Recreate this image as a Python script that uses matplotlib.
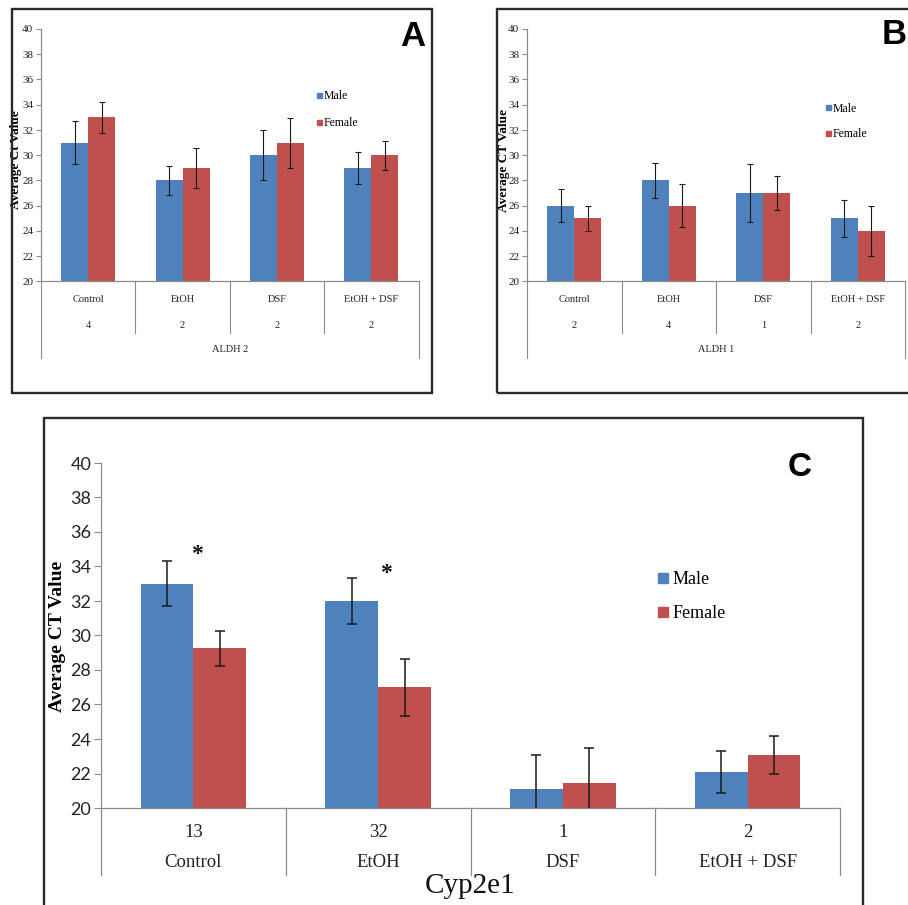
import matplotlib
matplotlib.use('Agg')
import matplotlib.pyplot as plt
import numpy as np
from matplotlib.transforms import blended_transform_factory
from matplotlib.patches import Rectangle
from matplotlib.lines import Line2D

W, H = 908, 905

# ---------------- data ----------------
categories = ['Control', 'EtOH', 'DSF', 'EtOH + DSF']
series = ['Male', 'Female']
yticks = [20, 22, 24, 26, 28, 30, 32, 34, 36, 38, 40]

aldh2_counts = ['4', '2', '2', '2']
aldh2_male = [31.0, 28.0, 30.0, 29.0]
aldh2_female = [33.0, 29.0, 31.0, 30.0]
aldh2_male_err = [1.73, 1.17, 2.0, 1.28]
aldh2_female_err = [1.23, 1.6, 1.98, 1.14]

aldh1_counts = ['2', '4', '1', '2']
aldh1_male = [26.0, 28.0, 27.0, 25.0]
aldh1_female = [25.0, 26.0, 27.0, 24.0]
aldh1_male_err = [1.3, 1.35, 2.3, 1.45]
aldh1_female_err = [0.98, 1.7, 1.33, 2.0]

cyp_counts = ['13', '32', '1', '2']
cyp_male = [33.0, 32.0, 21.1, 22.1]
cyp_female = [29.25, 27.0, 21.45, 23.1]
cyp_male_err = [1.3, 1.35, 2.0, 1.22]
cyp_female_err = [1.0, 1.65, 2.0, 1.1]
cyp_star_x = [0.02, 1.04]
cyp_star_y = [34.7, 33.6]

BLUE = '#4F81BD'
RED = '#C0504D'
SPINE = '#8c8c8c'
SERIF = ['Liberation Serif', 'DejaVu Serif']
SANS = ['Liberation Sans', 'DejaVu Sans']

fig = plt.figure(figsize=(W / 100, H / 100), dpi=100)


def px_axes(left, top, right, bottom):
    return fig.add_axes([left / W, 1 - bottom / H, (right - left) / W, (bottom - top) / H])


def draw_box(l, t, r, b):
    fig.add_artist(Rectangle((l / W, 1 - b / H), (r - l) / W, (b - t) / H,
                             transform=fig.transFigure, fill=False, lw=1.7,
                             ec='#2a2a2a', zorder=10))


def bar_panel(ax, male, female, merr, ferr, width, capsize, elw,
              tick_font, tick_size, tick_len):
    x = np.arange(len(categories))
    ax.bar(x - width / 2, male, width, color=BLUE, zorder=2)
    ax.bar(x + width / 2, female, width, color=RED, zorder=2)
    ax.errorbar(x - width / 2, male, yerr=merr, fmt='none', ecolor='#1a1a1a',
                elinewidth=elw, capsize=capsize, capthick=elw, zorder=3)
    ax.errorbar(x + width / 2, female, yerr=ferr, fmt='none', ecolor='#1a1a1a',
                elinewidth=elw, capsize=capsize, capthick=elw, zorder=3)
    ax.set_xlim(-0.5, len(categories) - 0.5)
    ax.set_ylim(20, 40)
    ax.set_yticks(yticks)
    for s in ['top', 'right']:
        ax.spines[s].set_visible(False)
    for s in ['left', 'bottom']:
        ax.spines[s].set_color(SPINE)
        ax.spines[s].set_linewidth(0.9)
    ax.tick_params(axis='x', length=0, labelbottom=False)
    ax.tick_params(axis='y', direction='out', length=tick_len, color=SPINE,
                   width=0.8, pad=2)
    for lab in ax.get_yticklabels():
        lab.set_family(tick_font)
        lab.set_fontsize(tick_size)
        lab.set_color('#222222')
    ax.patch.set_alpha(0)


def ya(y_px, top, bottom):
    return (bottom - y_px) / (bottom - top)


def table_labels(ax, top, bot, counts, group):
    tr = blended_transform_factory(ax.transData, ax.transAxes)
    for i, (c, n) in enumerate(zip(categories, counts)):
        ax.text(i, ya(299, top, bot), c, transform=tr, ha='center', va='center',
                family=SERIF, fontsize=7.5, color='#222222')
        ax.text(i, ya(325, top, bot), n, transform=tr, ha='center', va='center',
                family=SERIF, fontsize=7.5, color='#222222')
    ax.text(1.5, ya(350, top, bot), group, transform=tr, ha='center', va='center',
            family=SERIF, fontsize=7.5, color='#222222')
    for xv in np.arange(-0.5, len(categories), 1.0):
        end = 358 if xv in (-0.5, len(categories) - 0.5) else 333
        ax.plot([xv, xv], [0, ya(end, top, bot)], transform=tr, color=SPINE,
                lw=0.8, clip_on=False)


# ---------------- Panel A ----------------
draw_box(11.5, 9, 432, 393)
A_top, A_bot = 29, 281.5
axA = px_axes(41, A_top, 418.5, A_bot)
bar_panel(axA, aldh2_male, aldh2_female, aldh2_male_err, aldh2_female_err,
          0.286, 1.9, 0.8, SERIF, 8, 3.5)
table_labels(axA, A_top, A_bot, aldh2_counts, 'ALDH 2')
fig.text(16 / W, 1 - 160 / H, 'Average Ct Value', rotation=90, ha='center', va='center',
         family=SERIF, fontweight='bold', fontsize=9.5)
fig.text(413 / W, 1 - 37 / H, 'A', ha='center', va='center', family=SANS,
         fontweight='bold', fontsize=25)
handles_small = [Line2D([], [], marker='s', ls='none', markersize=3.6, color=BLUE),
                 Line2D([], [], marker='s', ls='none', markersize=3.6, color=RED)]
fig.legend(handles_small, series, loc='upper left', bbox_to_anchor=(316 / W, 1 - 90 / H),
           frameon=False, prop={'family': SERIF, 'size': 8.5}, handlelength=0.5,
           handletextpad=0.15, labelspacing=1.25, borderpad=0, borderaxespad=0)

# ---------------- Panel B ----------------
draw_box(497, 9, 915, 393)
B_top, B_bot = 29, 281.5
axB = px_axes(527, B_top, 905, B_bot)
bar_panel(axB, aldh1_male, aldh1_female, aldh1_male_err, aldh1_female_err,
          0.286, 1.9, 0.8, SERIF, 8, 3.5)
table_labels(axB, B_top, B_bot, aldh1_counts, 'ALDH 1')
fig.text(504 / W, 1 - 160 / H, 'Average CT Value', rotation=90, ha='center', va='center',
         family=SERIF, fontweight='bold', fontsize=9.5)
fig.text(894 / W, 1 - 35 / H, 'B', ha='center', va='center', family=SANS,
         fontweight='bold', fontsize=25)
fig.legend(handles_small, series, loc='upper left', bbox_to_anchor=(825 / W, 1 - 102.5 / H),
           frameon=False, prop={'family': SERIF, 'size': 8.5}, handlelength=0.5,
           handletextpad=0.15, labelspacing=1.15, borderpad=0, borderaxespad=0)

# ---------------- Panel C ----------------
draw_box(43.5, 418, 863, 915)
C_top, C_bot = 463, 808
axC = px_axes(101, C_top, 840, C_bot)
bar_panel(axC, cyp_male, cyp_female, cyp_male_err, cyp_female_err,
          0.286, 3.6, 1.1, ['Lato', 'DejaVu Sans'], 13, 5)
trC = blended_transform_factory(axC.transData, axC.transAxes)
for i, (c, n) in enumerate(zip(categories, cyp_counts)):
    axC.text(i, ya(832, C_top, C_bot), n, transform=trC, ha='center', va='center',
             family=SERIF, fontsize=13.5, color='#222222')
    axC.text(i, ya(862, C_top, C_bot), c, transform=trC, ha='center', va='center',
             family=SERIF, fontsize=13.5, color='#222222')
for xv in np.arange(-0.5, len(categories), 1.0):
    axC.plot([xv, xv], [0, ya(875, C_top, C_bot)], transform=trC, color=SPINE,
             lw=0.9, clip_on=False)
axC.text(1.5, ya(886, C_top, C_bot), 'Cyp2e1', transform=trC, ha='center', va='center',
         family=SERIF, fontsize=21, color='#111111')
for sx, sy in zip(cyp_star_x, cyp_star_y):
    axC.text(sx, sy, '*', ha='center', va='center', family=SERIF, fontsize=17,
             fontweight='bold', color='#111111')
fig.text(58 / W, 1 - 636 / H, 'Average CT Value', rotation=90, ha='center', va='center',
         family=SERIF, fontweight='bold', fontsize=14)
fig.text(800 / W, 1 - 467 / H, 'C', ha='center', va='center', family=SANS,
         fontweight='bold', fontsize=24)
handles_big = [Line2D([], [], marker='s', ls='none', markersize=7.5, color=BLUE),
               Line2D([], [], marker='s', ls='none', markersize=7.5, color=RED)]
fig.legend(handles_big, series, loc='upper left', bbox_to_anchor=(657 / W, 1 - 571 / H),
           frameon=False, prop={'family': SERIF, 'size': 13}, handlelength=0.7,
           handletextpad=0.15, labelspacing=0.95, borderpad=0, borderaxespad=0)

fig.savefig('out.png', dpi=100)
